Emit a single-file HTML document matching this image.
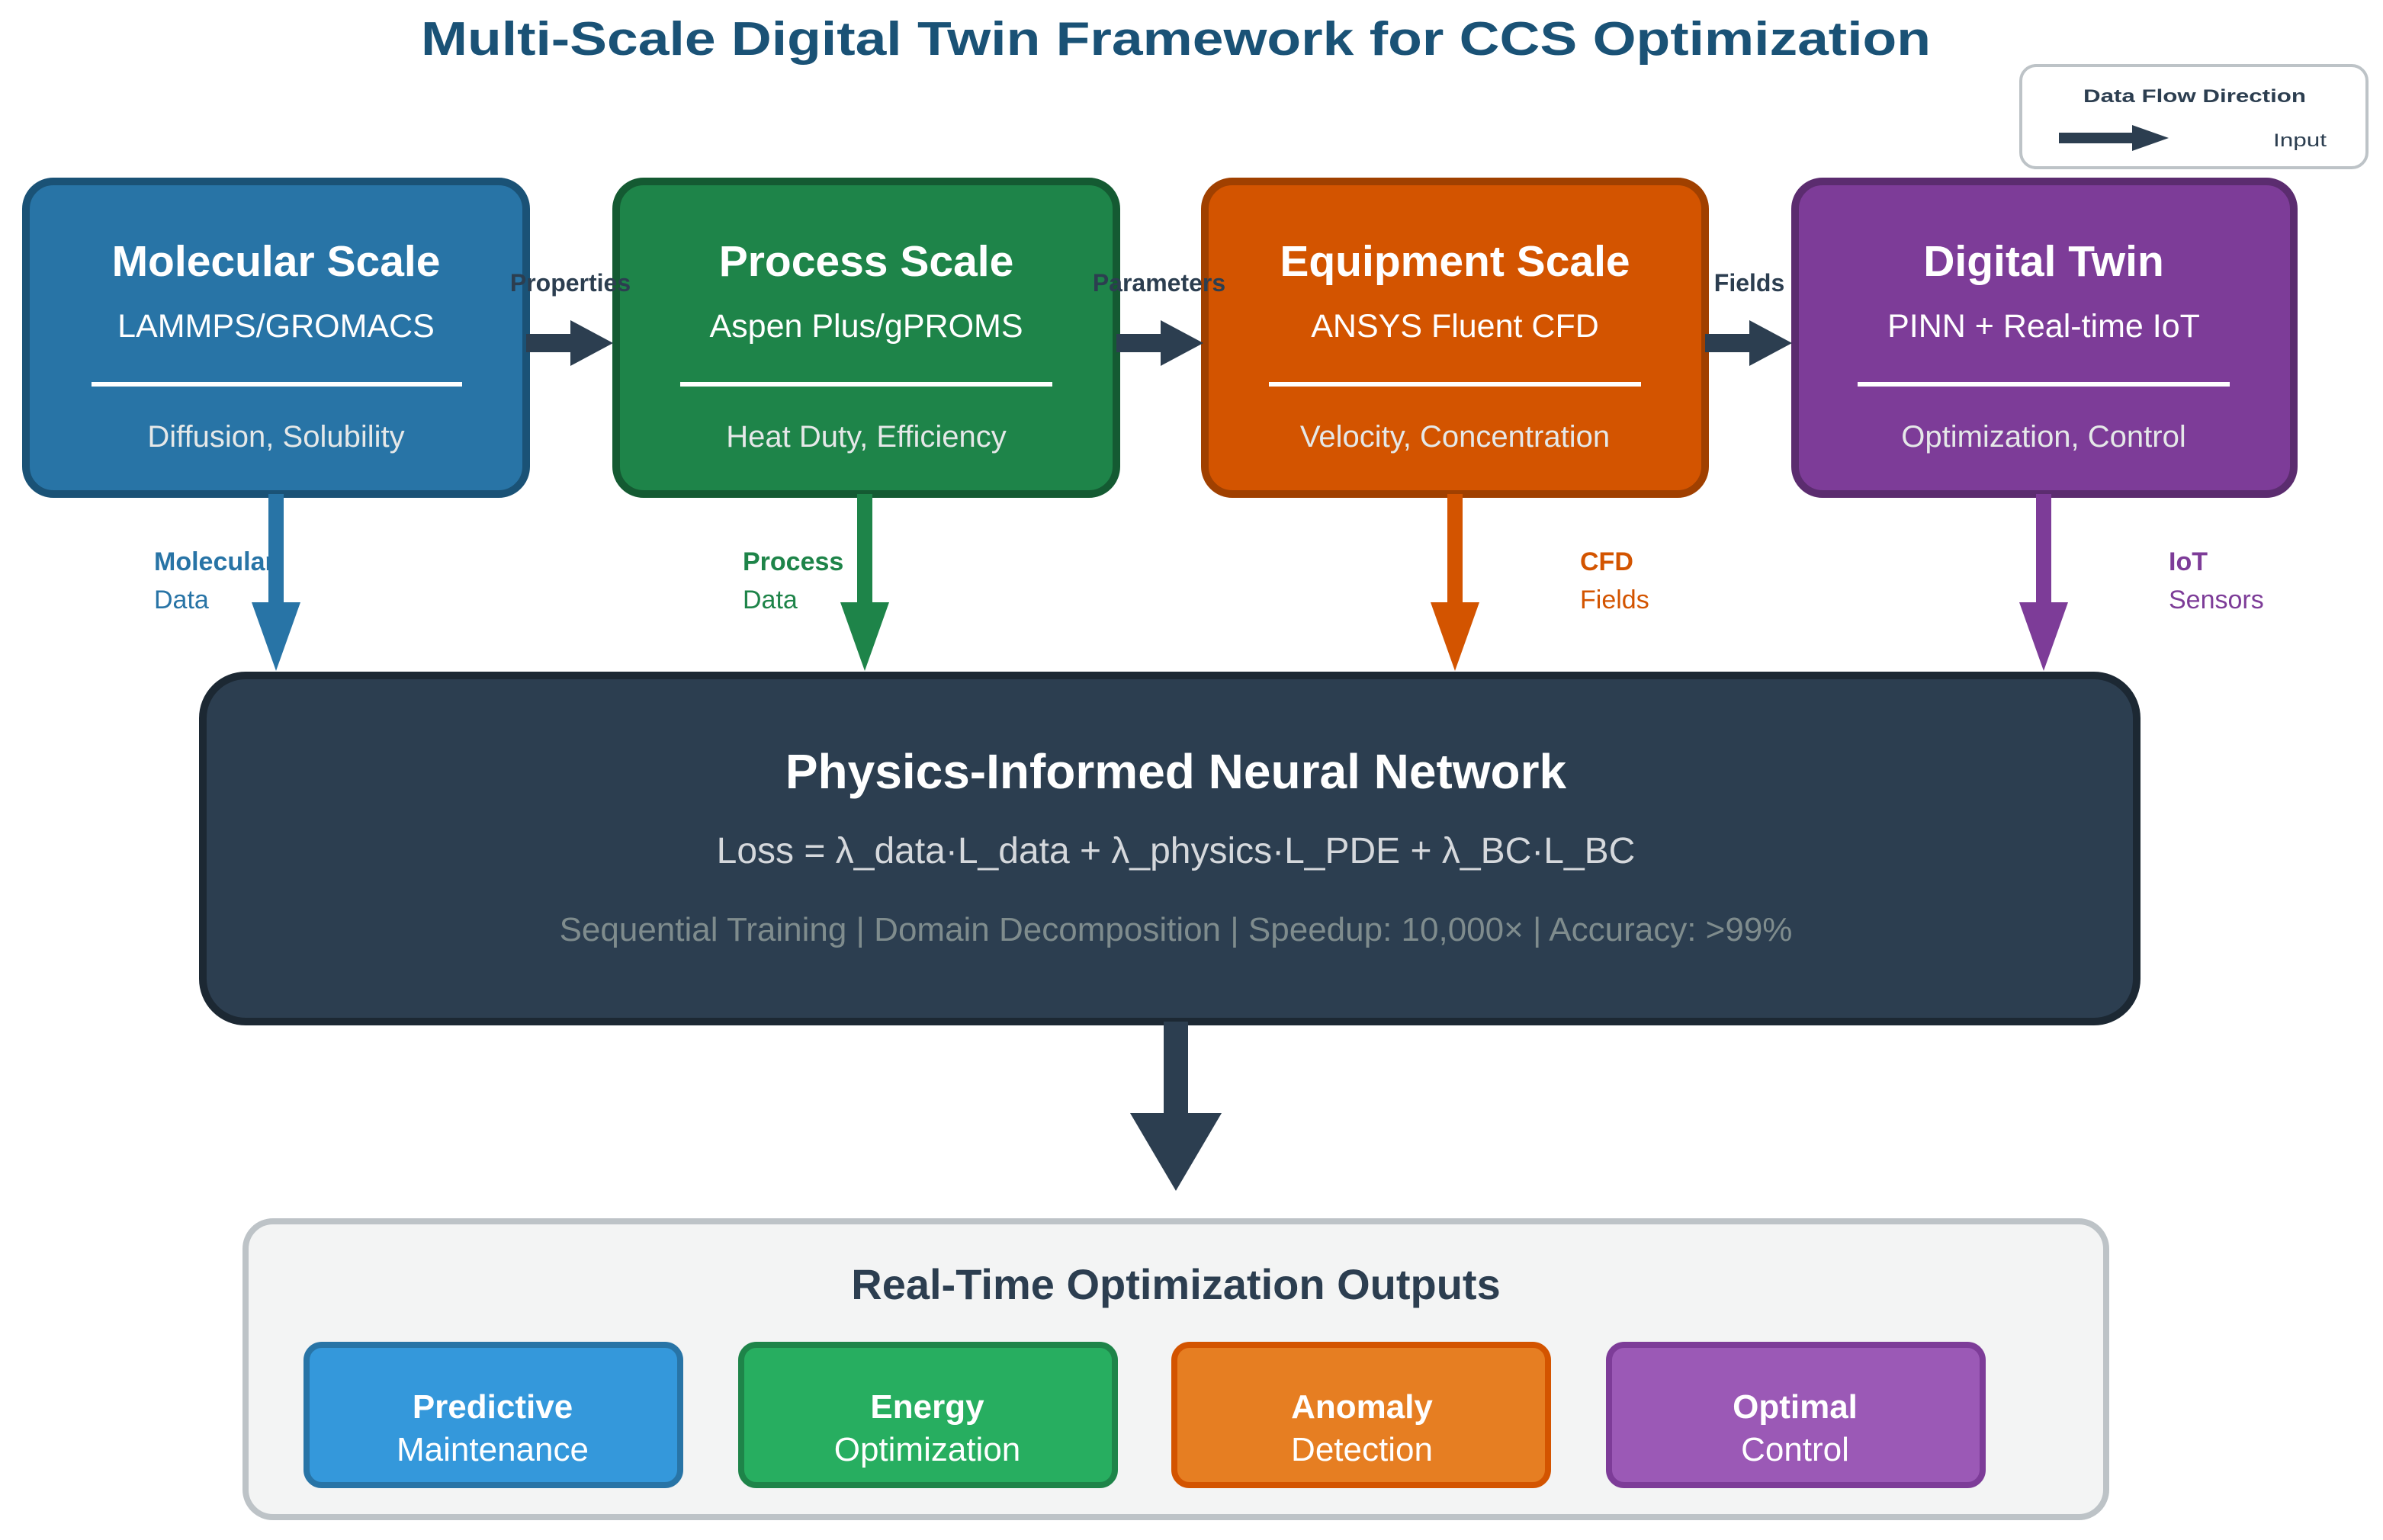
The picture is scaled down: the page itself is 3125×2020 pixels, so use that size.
<!DOCTYPE html>
<html><head><meta charset="utf-8"><style>html,body{margin:0;padding:0;background:#fff}svg{display:block}</style></head>
<body>
<svg width="3125" height="2020" viewBox="0 0 1562.5 1010" xmlns="http://www.w3.org/2000/svg" font-family="Liberation Sans, Arial, sans-serif">
<rect width="1562.5" height="1010" fill="#fff"/>
<text x="771" y="36" text-anchor="middle" font-size="31" font-weight="bold" fill="#1a5276" textLength="990" lengthAdjust="spacingAndGlyphs">Multi-Scale Digital Twin Framework for CCS Optimization</text>

<!-- legend -->
<rect x="1325" y="43" width="227" height="67" rx="10" fill="#fff" stroke="#bdc3c7" stroke-width="2"/>
<text x="1439" y="67" text-anchor="middle" font-size="12" font-weight="bold" fill="#2c3e50" textLength="146" lengthAdjust="spacingAndGlyphs">Data Flow Direction</text>
<rect x="1350" y="87" width="50" height="7" fill="#2c3e50"/>
<polygon points="1398,82 1422,90.5 1398,99" fill="#2c3e50"/>
<text x="1508" y="96" text-anchor="middle" font-size="12" fill="#2c3e50" textLength="35" lengthAdjust="spacingAndGlyphs">Input</text>

<!-- top boxes -->
<g stroke-width="5">
<rect x="17" y="119" width="328" height="205" rx="18" fill="#2874a6" stroke="#1a5276"/>
<rect x="404" y="119" width="328" height="205" rx="18" fill="#1e8449" stroke="#145a32"/>
<rect x="790" y="119" width="328" height="205" rx="18" fill="#d35400" stroke="#a04000"/>
<rect x="1177" y="119" width="327" height="205" rx="18" fill="#7d3c98" stroke="#5b2c6f"/>
</g>
<g fill="#fff" text-anchor="middle">
<text x="181" y="181" font-size="28.5" font-weight="bold">Molecular Scale</text>
<text x="181" y="221" font-size="21.5">LAMMPS/GROMACS</text>
<text x="568" y="181" font-size="28.5" font-weight="bold">Process Scale</text>
<text x="568" y="221" font-size="21.5">Aspen Plus/gPROMS</text>
<text x="954" y="181" font-size="28.5" font-weight="bold">Equipment Scale</text>
<text x="954" y="221" font-size="21.5">ANSYS Fluent CFD</text>
<text x="1340" y="181" font-size="28.5" font-weight="bold">Digital Twin</text>
<text x="1340" y="221" font-size="21.5">PINN + Real-time IoT</text>
</g>
<g stroke="#fff" stroke-width="3">
<line x1="60" y1="252" x2="303" y2="252"/>
<line x1="446" y1="252" x2="690" y2="252"/>
<line x1="832" y1="252" x2="1076" y2="252"/>
<line x1="1218" y1="252" x2="1462" y2="252"/>
</g>
<g fill="#e5e8e8" text-anchor="middle" font-size="20">
<text x="181" y="293">Diffusion, Solubility</text>
<text x="568" y="293">Heat Duty, Efficiency</text>
<text x="954" y="293">Velocity, Concentration</text>
<text x="1340" y="293">Optimization, Control</text>
</g>

<!-- horizontal arrows -->
<g fill="#2c3e50">
<rect x="345" y="219" width="35" height="12"/><polygon points="374,210 402,225 374,240"/>
<rect x="732" y="219" width="35" height="12"/><polygon points="761,210 789,225 761,240"/>
<rect x="1118" y="219" width="35" height="12"/><polygon points="1147,210 1175,225 1147,240"/>
</g>
<g fill="#2c3e50" font-size="16" font-weight="bold" text-anchor="middle">
<text x="374" y="191">Properties</text>
<text x="760" y="191">Parameters</text>
<text x="1147" y="191">Fields</text>
</g>

<!-- vertical labels -->
<g font-size="17">
<text x="101" y="374" font-weight="bold" fill="#2874a6">Molecular</text><text x="101" y="399" fill="#2874a6">Data</text>
<text x="487" y="374" font-weight="bold" fill="#1e8449">Process</text><text x="487" y="399" fill="#1e8449">Data</text>
<text x="1036" y="374" font-weight="bold" fill="#d35400">CFD</text><text x="1036" y="399" fill="#d35400">Fields</text>
<text x="1422" y="374" font-weight="bold" fill="#7d3c98">IoT</text><text x="1422" y="399" fill="#7d3c98">Sensors</text>
</g>
<!-- vertical arrows -->
<rect x="176" y="324" width="10" height="75" fill="#2874a6"/><polygon points="165,395 197,395 181,440" fill="#2874a6"/>
<rect x="562" y="324" width="10" height="75" fill="#1e8449"/><polygon points="551,395 583,395 567,440" fill="#1e8449"/>
<rect x="949" y="324" width="10" height="75" fill="#d35400"/><polygon points="938,395 970,395 954,440" fill="#d35400"/>
<rect x="1335" y="324" width="10" height="75" fill="#7d3c98"/><polygon points="1324,395 1356,395 1340,440" fill="#7d3c98"/>

<!-- PINN -->
<rect x="133" y="443" width="1268" height="227" rx="28" fill="#2c3e50" stroke="#1c2833" stroke-width="5"/>
<text x="771" y="517" text-anchor="middle" font-size="32" font-weight="bold" fill="#fff">Physics-Informed Neural Network</text>
<text x="771" y="566" text-anchor="middle" font-size="24" fill="#d5d8dc">Loss = λ_data·L_data + λ_physics·L_PDE + λ_BC·L_BC</text>
<text x="771" y="617" text-anchor="middle" font-size="22" fill="#7f8c8d">Sequential Training | Domain Decomposition | Speedup: 10,000× | Accuracy: &gt;99%</text>

<!-- down arrow -->
<rect x="763" y="670" width="16" height="64" fill="#2c3e50"/>
<polygon points="741,730 801,730 771,781" fill="#2c3e50"/>

<!-- outputs -->
<rect x="161" y="801" width="1220" height="194" rx="18" fill="#f3f4f4" stroke="#bdc3c7" stroke-width="4"/>
<text x="771" y="852" text-anchor="middle" font-size="28" font-weight="bold" fill="#2c3e50">Real-Time Optimization Outputs</text>
<g stroke-width="4">
<rect x="201" y="882" width="245" height="92" rx="10" fill="#3498db" stroke="#2874a6"/>
<rect x="486" y="882" width="245" height="92" rx="10" fill="#27ae60" stroke="#1e8449"/>
<rect x="770" y="882" width="245" height="92" rx="10" fill="#e67e22" stroke="#d35400"/>
<rect x="1055" y="882" width="245" height="92" rx="10" fill="#9b59b6" stroke="#7d3c98"/>
</g>
<g fill="#fff" text-anchor="middle" font-size="22">
<text x="323" y="930" font-weight="bold">Predictive</text><text x="323" y="958">Maintenance</text>
<text x="608" y="930" font-weight="bold">Energy</text><text x="608" y="958">Optimization</text>
<text x="893" y="930" font-weight="bold">Anomaly</text><text x="893" y="958">Detection</text>
<text x="1177" y="930" font-weight="bold">Optimal</text><text x="1177" y="958">Control</text>
</g>
</svg>
</body></html>
